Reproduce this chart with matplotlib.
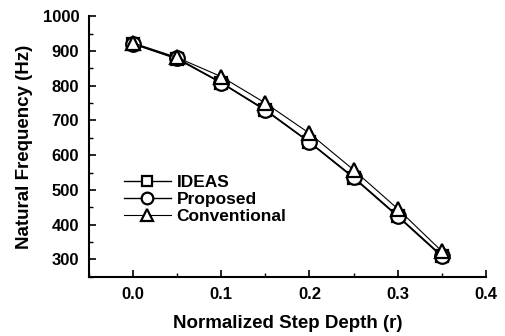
import matplotlib
matplotlib.use("Agg")
import matplotlib.pyplot as plt
from matplotlib.ticker import MultipleLocator

r = [0.0, 0.05, 0.10, 0.15, 0.20, 0.25, 0.30, 0.35]
ideas = [920, 877, 808, 729, 637, 535, 424, 309]
proposed = [921, 879, 809, 731, 638, 537, 426, 311]
conventional = [923, 881, 826, 750, 663, 558, 446, 324]

plt.rcParams['font.family'] = ['Liberation Sans', 'DejaVu Sans']
plt.rcParams['font.weight'] = 'bold'
plt.rcParams['font.size'] = 10
plt.rcParams['xtick.direction'] = 'in'
plt.rcParams['ytick.direction'] = 'in'

fig = plt.figure(figsize=(5.05, 3.36), dpi=100)
ax = fig.add_axes([0.176, 0.176, 0.786, 0.776])

ax.plot(r, ideas, '-', color='black', linewidth=1.0, marker='s', markersize=9,
        markerfacecolor='white', markeredgecolor='black', markeredgewidth=1.6, label='IDEAS')
ax.plot(r, proposed, '-', color='black', linewidth=1.0, marker='o', markersize=10.5,
        markerfacecolor='white', markeredgecolor='black', markeredgewidth=1.6, label='Proposed')
ax.plot(r, conventional, '-', color='black', linewidth=0.8, marker='^', markersize=10.5,
        markerfacecolor='white', markeredgecolor='black', markeredgewidth=1.6, label='Conventional')

ax.set_xlim(-0.05, 0.4)
ax.set_ylim(250, 1000)
ax.xaxis.set_minor_locator(MultipleLocator(0.05))
ax.yaxis.set_minor_locator(MultipleLocator(50))
ax.set_xticks([0.0, 0.1, 0.2, 0.3, 0.4])
ax.set_xticklabels(['0.0', '0.1', '0.2', '0.3', '0.4'])
ax.set_yticks([300, 400, 500, 600, 700, 800, 900, 1000])

ax.spines['top'].set_visible(False)
ax.spines['right'].set_visible(False)
ax.spines['left'].set_linewidth(1.5)
ax.spines['bottom'].set_linewidth(1.5)
ax.tick_params(which='major', length=5, width=1.2, labelsize=12, pad=7)
ax.tick_params(which='minor', length=3, width=1.0)

ax.set_xlabel('Normalized Step Depth (r)', fontsize=13.5, fontweight='bold', labelpad=10)
ax.set_ylabel('Natural Frequency (Hz)', fontsize=13.5, fontweight='bold', labelpad=7)

ax.legend(loc='upper left', bbox_to_anchor=(0.057, 0.437), frameon=False, fontsize=12.5,
          handlelength=2.7, handletextpad=0.35, labelspacing=0.1, borderpad=0.2,
          markerscale=0.8)

plt.savefig('out.png', dpi=100)
